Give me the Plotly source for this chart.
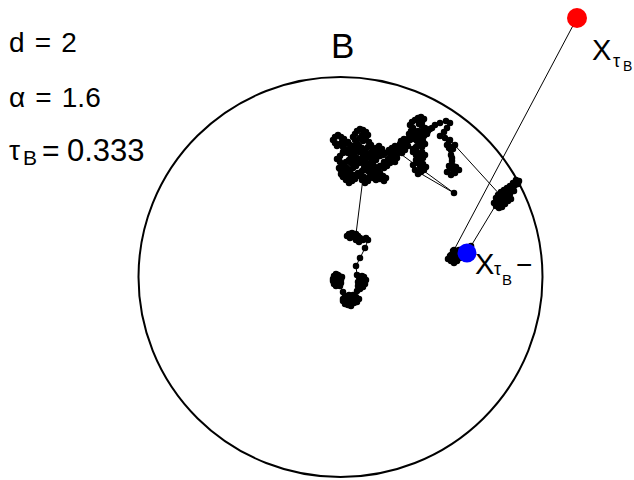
import plotly.graph_objects as go

# Path of the process (pixel-like coordinates, y measured downward)
path_x = [
    340, 338, 336, 334, 333, 335, 337, 339, 341, 339, 336, 334, 333, 336, 339, 342, 341, 338, 340,
    343, 345, 343, 345, 348, 350, 347, 349, 352, 354, 357, 359, 356, 354, 351, 348, 345, 343, 346, 350, 353,
    357, 360, 358, 361, 363, 365, 363, 360, 358, 361, 364, 366, 364, 362, 359, 357,
    356, 360, 365, 368,
    366, 363, 360, 358, 355, 352, 349, 347, 350, 353, 356, 359, 357, 354, 356,
    364, 361, 358, 355, 352, 349, 346, 343, 341, 344, 347, 350, 353, 356, 353, 349, 346, 343, 340, 337, 340,
    343, 346, 343, 340, 337, 335, 333, 335, 338, 341, 344, 342, 345, 348, 350, 353, 356, 354, 351, 348,
    351, 354, 357, 355, 353, 355, 357, 360, 363, 366, 368, 365, 362, 360, 363, 366, 369, 371, 368, 365,
    362, 359, 361, 364, 367, 370, 373, 376, 379, 382, 380, 383, 386, 389, 392, 395, 398, 400, 397, 394,
    391, 394, 397, 395, 390, 387, 384, 381, 378, 375, 372, 374, 377, 380, 383, 386, 384, 380, 376, 373,
    370, 367, 364, 362, 365, 368, 371, 368, 366, 363, 360, 357, 354, 351, 355, 359, 362, 365, 369, 372,
    375, 378, 376, 373, 370, 366, 362, 358, 354, 350, 346, 343, 340, 344, 348, 352, 349, 345, 342, 339,
    343, 347, 351, 355, 359, 363, 367, 371, 375, 379, 383, 380, 376, 372, 368, 364, 368, 372, 376, 380,
    384, 388, 391, 394, 397,
    400, 403, 401, 404, 407, 410, 412, 409, 411, 413, 410, 412, 415, 418, 421, 424, 422, 419, 422, 425,
    427, 430, 427, 424, 421, 418, 415, 417, 414, 417, 420, 423, 425, 422, 419, 416, 413, 416, 419, 422,
    425, 423, 420, 418, 420, 423, 426, 424, 421, 418, 415, 413, 416, 419, 416, 413, 416, 420, 418,
    454,
    398, 401, 405, 403, 406, 408, 404, 400, 397, 402, 408, 413, 418, 423, 428,
    432, 435, 440, 446, 450, 447, 444, 440, 445, 449, 447, 451, 455, 453, 449,
    451, 452, 449, 452, 456, 459, 455, 451, 447, 450, 453, 452, 451, 450,
    502, 505, 508, 511, 514, 517, 519, 516, 513, 510, 507, 504, 501, 498, 496, 499, 502, 499, 496, 494,
    497, 500, 503, 506, 509, 511, 508, 505, 502, 499, 497, 500, 504, 508, 512, 515, 518, 514, 510, 506,
    503, 500, 497, 500, 504, 507, 503, 499, 497,
    471, 462, 459, 456, 453, 450, 448, 451, 454, 457, 460, 457, 454, 451, 453, 454,
]
path_y = [
    277, 275, 274, 276, 279, 281, 279, 281, 283, 285, 286, 284, 281, 278, 276, 277, 280, 283, 286,
    292, 296, 299, 302, 304, 301, 298, 295, 297, 300, 302, 299, 297, 303, 306, 305, 304, 301, 299, 299, 295,
    291, 289, 286, 284, 287, 284, 281, 280, 282, 278, 277, 280, 283, 276, 277, 275,
    266, 258, 248, 240,
    238, 240, 238, 236, 235, 233, 234, 236, 238, 237, 240, 242, 238, 234, 234,
    170, 173, 176, 179, 181, 183, 180, 177, 174, 171, 168, 171, 168, 166, 163, 160, 162, 165, 162, 159, 156,
    153, 150, 147, 144, 146, 143, 140, 137, 135, 137, 139, 142, 144, 142, 145, 148, 151, 154, 156, 153,
    150, 146, 143, 140, 137, 134, 131, 129, 130, 132, 135, 137, 135, 138, 141, 140, 142, 145, 147, 150,
    148, 146, 151, 154, 156, 153, 150, 148, 146, 149, 152, 155, 153, 150, 148, 146, 148, 151, 154, 156,
    158, 160, 158, 162, 163, 166, 168, 166, 169, 167, 170, 173, 175, 173, 176, 178, 181, 179, 180, 178,
    176, 179, 177, 180, 183, 181, 176, 170, 166, 163, 160, 158, 160, 163, 165, 163, 159, 161, 164, 161,
    158, 156, 160, 163, 166, 168, 171, 173, 175, 172, 169, 166, 169, 173, 176, 178, 174, 172, 175, 168,
    152, 150, 147, 150, 152, 155, 158, 156, 153, 150, 152, 156, 159, 162, 164, 168, 171, 173, 170, 166,
    162, 159, 155, 152, 149,
    146, 144, 141, 139, 142, 140, 137, 134, 131, 128, 125, 122, 120, 118, 117, 119, 122, 124, 126, 128,
    131, 129, 134, 136, 134, 131, 133, 136, 139, 141, 139, 141, 144, 147, 145, 147, 149, 152, 154, 152,
    155, 158, 160, 163, 166, 164, 167, 170, 172, 174, 170, 165, 160, 157, 155, 152, 150, 160, 172,
    193,
    152, 147, 150, 145, 143, 139, 141, 144, 148, 153, 146, 138, 134, 131, 131,
    128, 125, 123, 121, 123, 128, 132, 136, 138, 141, 145, 147, 145, 149, 148,
    155, 161, 166, 169, 167, 170, 173, 175, 172, 168, 166, 158, 150, 140,
    197, 194, 191, 189, 186, 183, 181, 180, 183, 186, 188, 190, 192, 195, 198, 200, 202, 205, 206, 203,
    201, 198, 200, 198, 196, 199, 201, 204, 207, 208, 204, 194, 193, 190, 188, 185, 184, 191, 194, 196,
    199, 201, 205, 206, 202, 199, 197, 198, 203,
    246, 252, 250, 252, 254, 256, 259, 261, 263, 261, 258, 256, 258, 255, 251, 250,
]

exit_point = (577, 18)      # X_{tau_B}
pre_exit_point = (467, 253)  # X_{tau_B -}

ball_box = (138.5, 77, 542.5, 477)

FONT = "Arial, Liberation Sans, sans-serif"
SP = " \u200a"

fig = go.Figure()

fig.add_shape(type="circle", xref="x", yref="y",
              x0=ball_box[0], y0=ball_box[1], x1=ball_box[2], y1=ball_box[3],
              line=dict(color="black", width=2))

fig.add_trace(go.Scatter(x=path_x, y=path_y, mode="lines+markers",
                         line=dict(color="black", width=1),
                         marker=dict(color="black", size=6.5),
                         hoverinfo="skip", showlegend=False))

fig.add_trace(go.Scatter(x=[path_x[-1], exit_point[0]], y=[path_y[-1], exit_point[1]],
                         mode="lines", line=dict(color="black", width=1),
                         hoverinfo="skip", showlegend=False))

fig.add_trace(go.Scatter(x=[exit_point[0]], y=[exit_point[1]], mode="markers",
                         marker=dict(color="#ff0000", size=20),
                         hoverinfo="skip", showlegend=False))
fig.add_trace(go.Scatter(x=[pre_exit_point[0]], y=[pre_exit_point[1]], mode="markers",
                         marker=dict(color="#0000ff", size=19),
                         hoverinfo="skip", showlegend=False))

def txt(x, y, s, size, xanchor="left"):
    fig.add_annotation(x=x, y=y, xref="x", yref="y", text=s, showarrow=False,
                       xanchor=xanchor, yanchor="middle", borderpad=0,
                       font=dict(family=FONT, size=size, color="black"))

txt(8, 42, "d" + SP + "=" + SP + "2", 28)
txt(8, 97, "α" + SP + "=" + SP + "1.6", 28)
txt(8, 150, "τ", 28)
txt(22, 157, "B", 21)
txt(41, 150, "=", 30)
txt(66, 150, "0.333", 31)
txt(342, 45, "B", 35, xanchor="center")

# X_{tau_B}
txt(591, 50, "X", 29)
txt(612, 61, "τ", 18)
txt(622, 66, "B", 14)
# X_{tau_B -}
txt(474, 264, "X", 29)
txt(493, 269, "τ", 18)
txt(501, 279, "B", 15)
txt(515, 264, "−", 28)

fig.update_layout(
    width=634, height=480,
    margin=dict(l=0, r=0, t=0, b=0),
    paper_bgcolor="white", plot_bgcolor="white",
    xaxis=dict(range=[0, 634], visible=False, fixedrange=True),
    yaxis=dict(range=[480, 0], visible=False, fixedrange=True),
    showlegend=False,
)

fig.write_html(
    "out.html",
    config={"displayModeBar": False},
    post_script="document.body.style.margin='0';document.body.style.overflow='hidden';",
)
